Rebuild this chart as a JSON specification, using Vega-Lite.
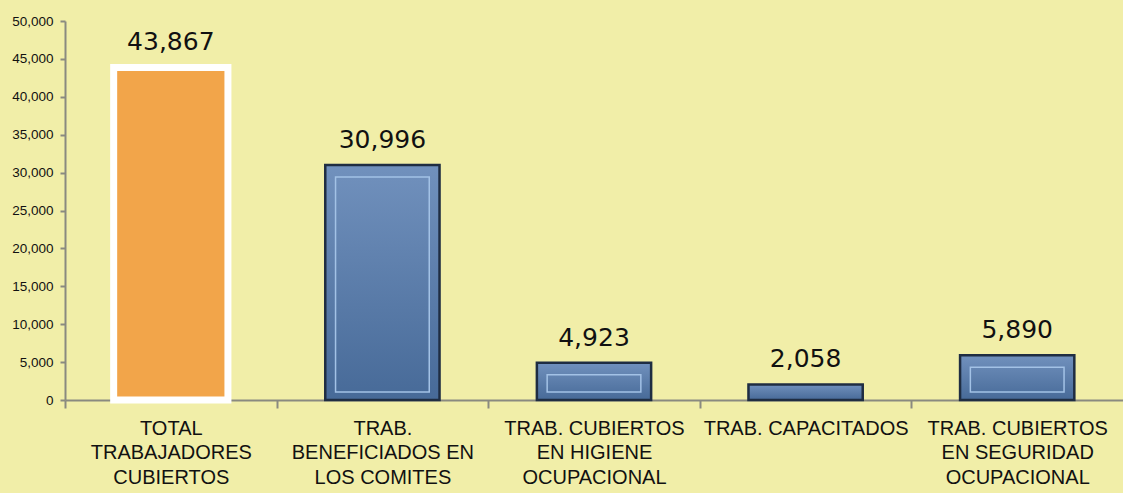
{
  "$schema": "https://vega.github.io/schema/vega-lite/v6.json",
  "autosize": "none",
  "padding": {"left": 65, "top": 21, "right": 0, "bottom": 93},
  "width": 1058,
  "height": 379,
  "background": "#f1eea8",
  "config": {
    "view": {"stroke": null},
    "axis": {"labelFont": "Liberation Sans", "labelColor": "#111", "domainColor": "#8a8a80", "tickColor": "#8a8a80", "grid": false, "title": null}
  },
  "data": {
    "values": [
      {"cat": "TOTAL|TRABAJADORES|CUBIERTOS", "v": 43867, "label": "43,867", "orange": true},
      {"cat": "TRAB.|BENEFICIADOS EN|LOS COMITES", "v": 30996, "label": "30,996", "orange": false},
      {"cat": "TRAB. CUBIERTOS|EN  HIGIENE|OCUPACIONAL", "v": 4923, "label": "4,923", "orange": false},
      {"cat": "TRAB. CAPACITADOS", "v": 2058, "label": "2,058", "orange": false},
      {"cat": "TRAB. CUBIERTOS|EN SEGURIDAD|OCUPACIONAL", "v": 5890, "label": "5,890", "orange": false}
    ]
  },
  "encoding": {
    "x": {
      "field": "cat", "type": "nominal", "sort": null,
      "scale": {"paddingInner": 0.46, "paddingOuter": 0.23},
      "axis": {"labelAngle": 0, "labelExpr": "split(datum.label, '|')", "labelFontSize": 20, "labelLineHeight": 24.5, "labelPadding": 10, "tickOffset": -105.8, "labelOffset": 105.8, "tickSize": 8, "domainWidth": 2, "tickWidth": 2, "labelLimit": 300, "labelBaseline": "top"}
    },
    "y": {
      "field": "v", "type": "quantitative",
      "scale": {"domain": [0, 50000], "nice": false},
      "axis": {"values": [0,5000,10000,15000,20000,25000,30000,35000,40000,45000,50000], "format": ",.0f", "labelFontSize": 13.5, "tickSize": 5, "labelPadding": 7, "domainWidth": 2, "tickWidth": 2}
    }
  },
  "layer": [
    {
      "mark": {"type": "bar"},
      "encoding": {
        "fill": {
          "condition": {"test": "datum.orange", "value": "#f2a54a"},
          "value": {"gradient": "linear", "x1": 0, "y1": 0, "x2": 0, "y2": 1, "stops": [{"offset": 0, "color": "#7191bd"}, {"offset": 1, "color": "#476a98"}]}
        },
        "stroke": {"condition": {"test": "datum.orange", "value": "#ffffff"}, "value": "#1f2d42"},
        "strokeWidth": {"condition": {"test": "datum.orange", "value": 7}, "value": 2.5}
      }
    },
    {
      "transform": [{"filter": "!datum.orange && datum.v > 3000"}],
      "mark": {"type": "bar", "width": {"band": 0.82}, "yOffset": 12, "y2Offset": -8, "fill": null, "stroke": "#a3c2e6", "strokeWidth": 1.5},
      "encoding": {"y2": {"datum": 0}}
    },
    {
      "mark": {"type": "text", "baseline": "bottom", "dy": -12, "font": "DejaVu Sans", "fontSize": 25, "color": "#111"},
      "encoding": {"text": {"field": "label"}}
    }
  ]
}
